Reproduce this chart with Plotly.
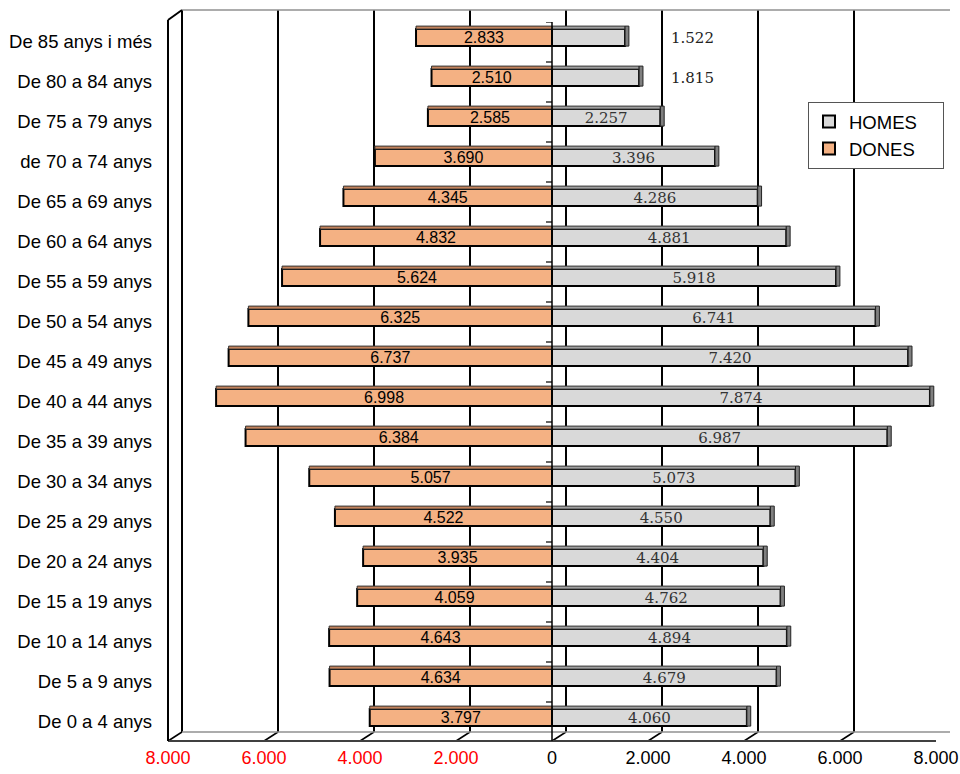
import plotly.graph_objects as go

# ---------------- data ----------------
age_groups = [
    "De 0 a 4 anys", "De 5 a 9 anys", "De 10 a 14 anys", "De 15 a 19 anys",
    "De 20 a 24 anys", "De 25 a 29 anys", "De 30 a 34 anys", "De 35 a 39 anys",
    "De 40 a 44 anys", "De 45 a 49 anys", "De 50 a 54 anys", "De 55 a 59 anys",
    "De 60 a 64 anys", "De 65 a 69 anys", "de 70 a 74 anys", "De 75 a 79 anys",
    "De 80 a 84 anys", "De 85 anys i més",
]
homes = [4060, 4679, 4894, 4762, 4404, 4550, 5073, 6987, 7874, 7420,
         6741, 5918, 4881, 4286, 3396, 2257, 1815, 1522]
dones = [3797, 4634, 4643, 4059, 3935, 4522, 5057, 6384, 6998, 6737,
         6325, 5624, 4832, 4345, 3690, 2585, 2510, 2833]
tick_values = [-8000, -6000, -4000, -2000, 0, 2000, 4000, 6000, 8000]


def fmt(v):
    return f"{abs(v):,}".replace(",", ".")


tick_text = [
    (f'<span style="color:#ff0000">{fmt(v)}</span>' if v < 0 else fmt(v))
    for v in tick_values
]

# ---------------- geometry / style ----------------
L, R, T, B = 168, 24, 22, 33
W, H = 960, 774
PW, PH = W - L - R, H - T - B
DX, DY = 14, 9          # 3D depth offset in pixels

BAR_W = 0.425
BAR_OFF = -0.1025
TOP_OFF = BAR_OFF + BAR_W
TOP_W = 0.075

C_DONES = "#F4B183"
C_DONES_TOP = "#C4835C"
C_HOMES = "#D9D9D9"
C_HOMES_TOP = "#A0A0A0"
C_HOMES_END = "#7F7F7F"

neg_dones = [-v for v in dones]
end_w = [80] * len(homes)   # thickness of the bar end face

fig = go.Figure()

homes_text = [fmt(v) if v >= 2000 else "" for v in homes]
PAD = "\u00a0" * 4

fig.add_trace(go.Bar(
    name="HOMES" + PAD, y=age_groups, x=homes, orientation="h",
    width=BAR_W, offset=BAR_OFF,
    marker=dict(color=C_HOMES, line=dict(color="#000000", width=2)),
    text=homes_text, textposition="inside", insidetextanchor="middle",
    constraintext="none",
    textfont=dict(family="DejaVu Serif, serif", size=15, color="#333333"),
))
fig.add_trace(go.Bar(
    name="DONES" + PAD, y=age_groups, x=neg_dones, orientation="h",
    width=BAR_W, offset=BAR_OFF,
    marker=dict(color=C_DONES, line=dict(color="#000000", width=2)),
    text=[fmt(v) for v in dones], textposition="inside",
    insidetextanchor="middle", constraintext="none",
    textfont=dict(family="Liberation Sans, Arial, sans-serif", size=16,
                  color="#000000"),
))
# 3D top faces
fig.add_trace(go.Bar(
    y=age_groups, x=homes, orientation="h", width=TOP_W, offset=TOP_OFF,
    marker=dict(color=C_HOMES_TOP, line=dict(color="#333333", width=1)),
    showlegend=False, hoverinfo="skip",
))
fig.add_trace(go.Bar(
    y=age_groups, x=neg_dones, orientation="h", width=TOP_W, offset=TOP_OFF,
    marker=dict(color=C_DONES_TOP, line=dict(color="#333333", width=1)),
    showlegend=False, hoverinfo="skip",
))
# 3D end face for HOMES
fig.add_trace(go.Bar(
    y=age_groups, x=end_w, base=homes, orientation="h",
    width=BAR_W + TOP_W, offset=BAR_OFF,
    marker=dict(color=C_HOMES_END, line=dict(color="#222222", width=1)),
    showlegend=False, hoverinfo="skip",
))


def px_x(x):
    return (x - L) / PW


def px_y(y):
    return (H - B - y) / PH


shapes = []
floor_front_y = H - B
# back wall vertical gridlines (shifted by 3D depth)
for v in tick_values:
    col = "#000000" if v < 8000 else "#808080"
    shapes.append(dict(type="line", xref="x", yref="paper",
                       xsizemode="pixel", xanchor=v, x0=DX, x1=DX,
                       ysizemode="pixel", yanchor=0, y0=DY, y1=floor_front_y - 10,
                       line=dict(color=col, width=2 if v < 8000 else 1.5),
                       layer="below"))
    # diagonal floor ticks
    shapes.append(dict(type="line", xref="x", yref="paper",
                       xsizemode="pixel", xanchor=v, x0=0, x1=DX,
                       ysizemode="pixel", yanchor=0, y0=0, y1=DY,
                       line=dict(color="#000000" if v < 8000 else "#808080",
                                 width=1.5),
                       layer="below"))

# back wall top edge
shapes.append(dict(type="line", xref="paper", yref="paper",
                   x0=px_x(L + DX), x1=px_x(L + PW + DX), y0=px_y(10), y1=px_y(10),
                   line=dict(color="#909090", width=1.5), layer="below"))
# floor back edge
shapes.append(dict(type="line", xref="paper", yref="paper",
                   x0=px_x(L + DX), x1=px_x(L + PW + DX),
                   y0=px_y(floor_front_y - DY), y1=px_y(floor_front_y - DY),
                   line=dict(color="#909090", width=1.5), layer="below"))
# floor front edge
shapes.append(dict(type="line", xref="paper", yref="paper",
                   x0=0, x1=1, y0=0, y1=0,
                   line=dict(color="#404040", width=2), layer="below"))
# left wall outer edge + diagonal top
shapes.append(dict(type="line", xref="paper", yref="paper",
                   x0=0, x1=0, y0=0, y1=px_y(20),
                   line=dict(color="#000000", width=2), layer="below"))
shapes.append(dict(type="line", xref="paper", yref="paper",
                   x0=0, x1=px_x(L + DX), y0=px_y(20), y1=px_y(10),
                   line=dict(color="#000000", width=2), layer="below"))

# vertical category axis at 0 with small ticks
shapes.append(dict(type="line", xref="x", yref="paper", x0=0, x1=0,
                   y0=0, y1=1, line=dict(color="#000000", width=1.5)))
for i in range(len(age_groups) + 1):
    shapes.append(dict(type="line", xref="x", yref="y",
                       xsizemode="pixel", xanchor=0, x0=-6, x1=0,
                       y0=i - 0.5, y1=i - 0.5,
                       line=dict(color="#000000", width=1.2)))

annotations = []
small = [v for v in homes if v < 2000]
label_x = max(small) if small else 0
for g, v in zip(age_groups, homes):
    if v < 2000:
        annotations.append(dict(x=label_x, y=g, xref="x", yref="y", text=fmt(v),
                                showarrow=False, xanchor="left", xshift=30,
                                yshift=4,
                                font=dict(family="DejaVu Serif, serif", size=15,
                                          color="#222222")))

fig.update_layout(
    width=W, height=H,
    margin=dict(l=L, r=R, t=T, b=B, pad=0, autoexpand=False),
    paper_bgcolor="#ffffff", plot_bgcolor="#ffffff",
    barmode="overlay",
    showlegend=True,
    legend=dict(x=px_x(808), y=px_y(102), xanchor="left", yanchor="top",
                bgcolor="#ffffff", bordercolor="#555555", borderwidth=1,
                font=dict(family="Liberation Sans, Arial, sans-serif", size=18.5,
                          color="#000000"),
                itemwidth=30, traceorder="normal", tracegroupgap=0),
    shapes=shapes,
    annotations=annotations,
    xaxis=dict(range=[-8000, 8000], tickmode="array", tickvals=tick_values,
               ticktext=tick_text, showgrid=False, zeroline=False,
               showline=False, ticks="", ticklabelstandoff=4, automargin=False,
               tickfont=dict(family="Liberation Sans Narrow, Arial Narrow, Liberation Sans, sans-serif",
                             size=18, color="#000000")),
    yaxis=dict(type="category", categoryorder="array", categoryarray=age_groups,
               range=[-0.475, len(age_groups) - 0.5], automargin=False,
               showgrid=False, zeroline=False, showline=False, ticks="",
               ticklabelstandoff=15,
               tickfont=dict(family="Liberation Sans, Arial, sans-serif", size=18.5,
                             color="#000000")),
)

fig.write_html(
    "out.html",
    config={"displayModeBar": False},
    post_script="document.body.style.margin='0';document.body.style.overflow='hidden';",
)
